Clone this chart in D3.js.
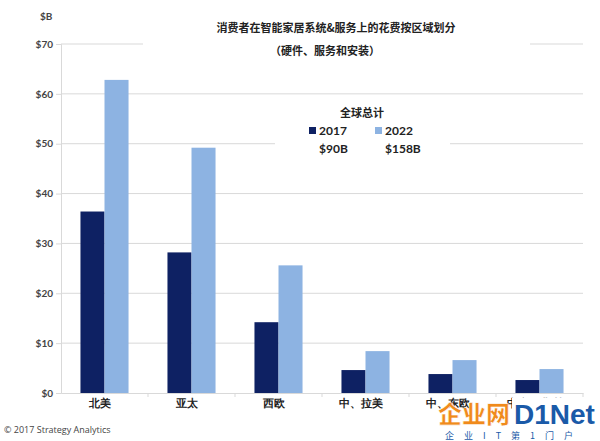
<!DOCTYPE html>
<html><head><meta charset="utf-8">
<script src="https://cdn.jsdelivr.net/npm/d3@7/dist/d3.min.js"></script>
<style>body{margin:0;background:#fff;}svg{display:block;font-family:"Noto Sans CJK SC","Noto Sans",sans-serif;}</style>
</head><body>
<svg id="c" width="600" height="441"></svg>
<script>
const categories = ["北美","亚太","西欧","中、拉美","中、东欧","中东、非洲"];
const years = ["2017","2022"];
const values2017 = [36.4, 28.2, 14.2, 4.6, 3.8, 2.6];
const values2022 = [62.8, 49.2, 25.6, 8.4, 6.6, 4.8];
const yTicks = [0,10,20,30,40,50,60,70];
const totals = ["$90B","$158B"];
const colors = ["#0e2163","#8db3e2"];

(function(){
const svg = d3.select("#c");
const mLeft = 61, mRight = 583, mTop = 44, mBottom = 393;
const y = d3.scaleLinear().domain([0,70]).range([mBottom, mTop]);
const x0 = d3.scaleBand().domain(categories).range([mLeft, mRight]).padding(0);
const x1 = d3.scaleBand().domain(years).range([0, x0.bandwidth()]).paddingInner(0).paddingOuter(0.81);
const series = [values2017, values2022];

svg.append("g").selectAll("line").data(yTicks.slice(1)).join("line")
  .attr("x1", mLeft).attr("x2", mRight)
  .attr("y1", d => y(d)).attr("y2", d => y(d))
  .attr("stroke", "#d9d9d9").attr("stroke-width", 1);

const yAxis = d3.axisLeft(y).tickValues(yTicks).tickFormat(d => "$" + d).tickSize(5).tickPadding(3);
const gy = svg.append("g").attr("transform", `translate(${mLeft},0)`).call(yAxis);
gy.select(".domain").attr("stroke", "#d9d9d9");
gy.selectAll(".tick line").attr("stroke", "#d9d9d9");
gy.selectAll("text").attr("fill", "#444").style("font-size", "10px").style("font-weight", "bold")
  .style("font-family", "Lato, 'Noto Sans', sans-serif");

categories.forEach((c, i) => {
  years.forEach((yr, j) => {
    svg.append("rect")
      .attr("x", x0(c) + x1(yr)).attr("width", x1.bandwidth())
      .attr("y", y(series[j][i])).attr("height", y(0) - y(series[j][i]))
      .attr("fill", colors[j]);
  });
});

const xAxis = d3.axisBottom(x0).tickSize(0).tickPadding(7);
const gx = svg.append("g").attr("transform", `translate(0,${mBottom})`).call(xAxis);
gx.select(".domain").attr("stroke", "#d9d9d9");
gx.selectAll("text").attr("fill", "#222").style("font-size", "10.5px").style("font-weight", "bold")
  .attr("dx", "-5");
svg.append("g").selectAll("line").data(categories).join("line")
  .attr("x1", d => x0(d) + x0.bandwidth()).attr("x2", d => x0(d) + x0.bandwidth())
  .attr("y1", mBottom).attr("y2", mBottom + 4).attr("stroke", "#d9d9d9");

svg.append("rect").attr("x", 143).attr("y", 14).attr("width", 387).attr("height", 50).attr("fill", "#fff");
svg.append("text").attr("x", 336).attr("y", 32).attr("text-anchor", "middle")
  .style("font-size", "11px").style("font-weight", "bold").attr("fill", "#222")
  .text("消费者在智能家居系统&服务上的花费按区域划分");
svg.append("text").attr("x", 325).attr("y", 55).attr("text-anchor", "middle")
  .style("font-size", "11px").style("font-weight", "bold").attr("fill", "#222")
  .text("（硬件、服务和安装）");

svg.append("text").attr("x", 40).attr("y", 20).style("font-size", "10px").style("font-weight", "bold")
  .style("font-family", "Lato, 'Noto Sans', sans-serif").attr("fill", "#444").text("$B");

svg.append("rect").attr("x", 275).attr("y", 100).attr("width", 175).attr("height", 58).attr("fill", "#fff");
svg.append("text").attr("x", 362).attr("y", 117).attr("text-anchor", "middle")
  .style("font-size", "11px").style("font-weight", "bold").attr("fill", "#222").text("全球总计");
const lx = [309, 375];
years.forEach((yr, j) => {
  svg.append("rect").attr("x", lx[j]).attr("y", 127).attr("width", 7).attr("height", 7).attr("fill", colors[j]);
  svg.append("text").attr("x", lx[j] + 10).attr("y", 135)
    .style("font-size", "12px").style("font-weight", "bold").style("font-family", "Lato, 'Noto Sans', sans-serif")
    .attr("fill", "#222").text(yr);
  svg.append("text").attr("x", lx[j] + 10).attr("y", 153)
    .style("font-size", "12px").style("font-weight", "bold").style("font-family", "Lato, 'Noto Sans', sans-serif")
    .attr("fill", "#222").text(totals[j]);
});

svg.append("text").attr("x", 4).attr("y", 433).style("font-size", "9px")
  .style("font-family", "'Open Sans', 'Noto Sans', sans-serif").attr("fill", "#444")
  .text("© 2017 Strategy Analytics");

svg.append("text").attr("x", 438).attr("y", 423).style("font-size", "24px").style("font-weight", "900")
  .attr("fill", "#f08a1c").attr("stroke", "#fff").attr("stroke-width", 0.6).text("企业网");
svg.append("rect").attr("x", 512).attr("y", 398).attr("width", 86).attr("height", 29).attr("fill", "#fff");
svg.append("text").attr("x", 514).attr("y", 424).style("font-size", "28px").style("font-weight", "bold")
  .style("font-family", "'Liberation Sans', Arial, sans-serif").attr("fill", "#1a5aa8").text("D1Net");
svg.append("text").attr("x", 445).attr("y", 439).style("font-size", "9px")
  .attr("fill", "#1a5aa8").attr("letter-spacing", "10px").text("企业IT第1门户");
})();
</script>
</body></html>
